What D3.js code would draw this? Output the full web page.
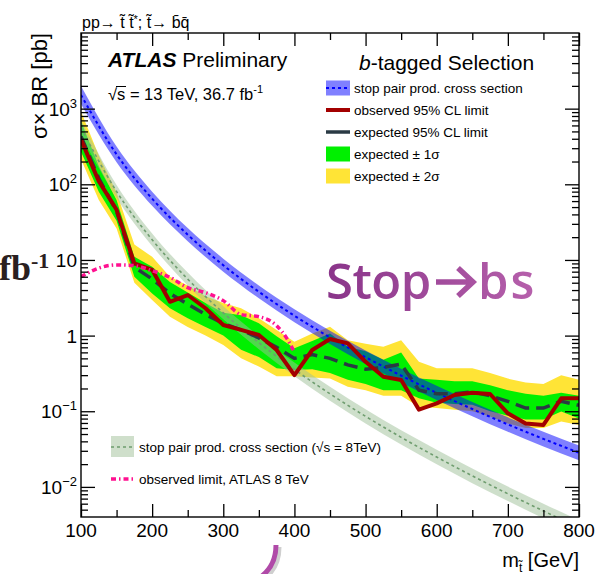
<!DOCTYPE html>
<html>
<head>
<meta charset="utf-8">
<script src="https://cdn.jsdelivr.net/npm/d3@7"></script>
<style>
html, body { margin: 0; padding: 0; background: #fff; }
svg { display: block; font-family: "Liberation Sans", Arial, Helvetica, sans-serif; }
</style>
</head>
<body>
<svg id="chart" width="599" height="574"></svg>
<script>
// ---- limit scan (stop mass in GeV, sigma x BR in pb) ----
const mass = [100,125,150,175,200,225,250,275,300,325,350,375,400,425,450,475,500,525,550,575,600,625,650,675,700,725,750,775,800];
const observed = [390,110,46,9.0,7.4,2.8,3.44,2.3,1.38,1.19,1.02,0.645,0.30,0.645,0.90,0.79,0.45,0.286,0.259,0.105,0.127,0.164,0.176,0.169,0.094,0.069,0.066,0.148,0.148];
const expected = [430,120,44,8.0,5.6,3.6,2.6,1.9,1.45,1.19,0.93,0.70,0.50,0.56,0.50,0.41,0.36,0.38,0.42,0.19,0.17,0.17,0.18,0.16,0.135,0.11,0.11,0.135,0.12];
const exp1Lo = [270,80,33,6.0,3.6,2.3,1.7,1.3,1.0,0.65,0.52,0.37,0.35,0.36,0.32,0.26,0.23,0.19,0.19,0.148,0.13,0.125,0.122,0.10,0.087,0.078,0.078,0.099,0.08];
const exp1Hi = [680,175,62,11,8.1,5.1,3.7,2.7,2.0,1.86,1.46,0.98,0.68,0.85,1.07,0.71,0.62,0.48,0.60,0.27,0.26,0.25,0.25,0.22,0.19,0.17,0.16,0.175,0.16];
const exp2Lo = [215,62,26,5.0,2.95,1.78,1.3,1.0,0.75,0.5,0.39,0.29,0.29,0.28,0.27,0.21,0.19,0.16,0.16,0.115,0.11,0.105,0.10,0.085,0.069,0.06,0.06,0.073,0.066];
const exp2Hi = [920,240,78,16,11,6.0,4.6,3.3,2.7,2.3,1.7,1.19,0.83,1.07,1.31,0.87,0.78,0.71,0.87,0.45,0.37,0.37,0.37,0.32,0.27,0.24,0.23,0.30,0.26];

// ---- stop pair production cross sections ----
const xsMass = [100,150,200,250,300,350,400,450,500,550,600,650,700,750,800];
const xs13   = [1521,249,64.5,21.6,8.52,3.79,1.83,0.948,0.518,0.296,0.175,0.107,0.0670,0.0431,0.0283];
const xs13Lo = [1150,196,52,17.7,7.0,3.12,1.5,0.775,0.422,0.24,0.141,0.086,0.0535,0.0342,0.0225];
const xs13Hi = [2000,316,80,26.4,10.4,4.6,2.23,1.16,0.636,0.364,0.217,0.133,0.0830,0.0535,0.0352];
const xs8    = [560,80.3,18.5,5.58,2.00,0.807,0.357,0.170,0.0856,0.0452,0.0248,0.0140,0.00811,0.00481,0.00290];
const xs8Lo  = [440,66,15.3,4.6,1.64,0.66,0.29,0.138,0.069,0.0364,0.0199,0.0112,0.0065,0.00384,0.00231];
const xs8Hi  = [710,98,22.4,6.8,2.44,0.99,0.44,0.21,0.106,0.056,0.031,0.0175,0.0101,0.0060,0.00363];

// ---- earlier 8 TeV observed limit ----
const atlas8Mass = [100,125,150,175,200,225,250,275,300,325,350,375,390,400];
const atlas8Obs  = [6.0,7.8,8.6,8.4,7.2,5.9,4.3,3.7,2.9,1.9,1.78,1.35,0.9,0.6];

// ---- axis tick labels ----
const xTickValues = [100,200,300,400,500,600,700,800];
const yTickValues = [1e-2,1e-1,1,10,100,1000];
const yTickBase = ["10","10","1","10","10","10"];
const yTickExp  = ["\u22122","\u22121","","","2","3"];

const L = 81, R = 579, T = 33, B = 517;
const svg = d3.select("#chart");
const x = d3.scaleLinear().domain([100, 800]).range([L, R]);
const y = d3.scaleLog().domain([4e-3, 1e4]).range([B, T]);

const defs = svg.append("defs");
defs.append("clipPath").attr("id", "plotClip")
  .append("rect").attr("x", L).attr("y", T).attr("width", R - L).attr("height", B - T);
const grad = defs.append("linearGradient").attr("id", "stopGrad")
  .attr("gradientUnits", "userSpaceOnUse").attr("x1", 328).attr("x2", 545).attr("y1", 0).attr("y2", 0);
grad.append("stop").attr("offset", "0").attr("stop-color", "#8a358a");
grad.append("stop").attr("offset", "1").attr("stop-color", "#b862ad");

const plot = svg.append("g").attr("clip-path", "url(#plotClip)");

function bandPath(ms, lo, hi, curve) {
  return d3.area()
    .x(i => x(ms[i])).y0(i => y(lo[i])).y1(i => y(hi[i]))
    .curve(curve)(d3.range(ms.length));
}
function linePath(ms, vals, curve) {
  return d3.line().x(i => x(ms[i])).y(i => y(vals[i])).curve(curve)(d3.range(ms.length));
}

// expected bands
plot.append("path").attr("d", bandPath(mass, exp2Lo, exp2Hi, d3.curveLinear)).attr("fill", "#ffe436");
plot.append("path").attr("d", bandPath(mass, exp1Lo, exp1Hi, d3.curveLinear)).attr("fill", "#00f000");

// theory cross sections
plot.append("path").attr("d", bandPath(xsMass, xs8Lo, xs8Hi, d3.curveMonotoneX))
  .attr("fill", "#9ebf98").attr("fill-opacity", 0.5);
plot.append("path").attr("d", linePath(xsMass, xs8, d3.curveMonotoneX))
  .attr("fill", "none").attr("stroke", "#6f9d6f").attr("stroke-width", 1.6).attr("stroke-dasharray", "3,3");
plot.append("path").attr("d", bandPath(xsMass, xs13Lo, xs13Hi, d3.curveMonotoneX))
  .attr("fill", "#0000ff").attr("fill-opacity", 0.5);
plot.append("path").attr("d", linePath(xsMass, xs13, d3.curveMonotoneX))
  .attr("fill", "none").attr("stroke", "#0000ff").attr("stroke-width", 2).attr("stroke-dasharray", "3,3");

// limits
plot.append("path").attr("d", linePath(mass, expected, d3.curveLinear))
  .attr("fill", "none").attr("stroke", "#2a3a44").attr("stroke-width", 3.5).attr("stroke-dasharray", "14,7");
plot.append("path").attr("d", linePath(mass, observed, d3.curveLinear))
  .attr("fill", "none").attr("stroke", "#a30000").attr("stroke-width", 4).attr("stroke-linejoin", "round");
plot.append("path").attr("d", linePath(atlas8Mass, atlas8Obs, d3.curveMonotoneX))
  .attr("fill", "none").attr("stroke", "#ff1090").attr("stroke-width", 3.5).attr("stroke-dasharray", "5,3,1.5,3");

// ---- axes ----
const xMinor = [150,250,350,450,550,650,750];
const yMinor = [];
for (let k = -3; k <= 3; k++) for (let m = 2; m <= 9; m++) {
  const v = m * Math.pow(10, k);
  if (v > 4e-3 && v < 1e4) yMinor.push(v);
}
const axes = svg.append("g");
function addAxis(gen, tx, ty) {
  const g = axes.append("g").attr("transform", `translate(${tx},${ty})`).call(gen);
  g.select(".domain").remove();
  g.selectAll("line").attr("stroke", "#000").attr("stroke-width", 1.3);
  g.selectAll("text").remove();
}
addAxis(d3.axisBottom(x).tickValues(xTickValues).tickSize(-13).tickFormat(""), 0, B);
addAxis(d3.axisBottom(x).tickValues(xMinor).tickSize(-7).tickFormat(""), 0, B);
addAxis(d3.axisTop(x).tickValues(xTickValues).tickSize(-13).tickFormat(""), 0, T);
addAxis(d3.axisTop(x).tickValues(xMinor).tickSize(-7).tickFormat(""), 0, T);
addAxis(d3.axisLeft(y).tickValues(yTickValues).tickSize(-14).tickFormat(""), L, 0);
addAxis(d3.axisLeft(y).tickValues(yMinor).tickSize(-7).tickFormat(""), L, 0);
addAxis(d3.axisRight(y).tickValues(yTickValues).tickSize(-14).tickFormat(""), R, 0);
addAxis(d3.axisRight(y).tickValues(yMinor).tickSize(-7).tickFormat(""), R, 0);
svg.append("rect").attr("x", L).attr("y", T).attr("width", R - L).attr("height", B - T)
  .attr("fill", "none").attr("stroke", "#000").attr("stroke-width", 1.4);

// tick labels
svg.append("g").selectAll("text").data(xTickValues).join("text")
  .attr("x", d => x(d)).attr("y", 537).attr("text-anchor", "middle")
  .attr("font-size", 19).text(d => d);
const yl = svg.append("g").selectAll("text").data(yTickValues).join("text")
  .attr("x", 77).attr("y", d => y(d) + 7).attr("text-anchor", "end").attr("font-size", 19);
yl.append("tspan").text((d, i) => yTickBase[i]);
yl.append("tspan").attr("dy", -8).attr("font-size", 13).text((d, i) => yTickExp[i]);

// axis titles
const xt = svg.append("text").attr("x", 579).attr("y", 567).attr("text-anchor", "end").attr("font-size", 20);
xt.append("tspan").text("m");
xt.append("tspan").attr("dy", 5).attr("font-size", 12).text("t\u0303");
xt.append("tspan").attr("dy", -5).text(" [GeV]");
svg.append("text").attr("transform", "translate(47,33) rotate(-90)").attr("text-anchor", "end")
  .attr("font-size", 22).text("\u03c3\u00d7 BR [pb]");

// process title
const tt = svg.append("text").attr("x", 82).attr("y", 28).attr("font-size", 16);
tt.append("tspan").text("pp\u2192 t\u0303 t\u0303");
tt.append("tspan").attr("dy", -5).attr("font-size", 11).text("*");
tt.append("tspan").attr("dy", 5).text("; t\u0303\u2192 b\u0304q\u0304");

// ATLAS label
const at = svg.append("text").attr("x", 108).attr("y", 67).attr("font-size", 21);
at.append("tspan").attr("font-weight", "bold").attr("font-style", "italic").text("ATLAS");
at.append("tspan").text(" Preliminary");
const rs = svg.append("text").attr("x", 108).attr("y", 100).attr("font-size", 16.5);
rs.append("tspan").text("\u221as = 13 TeV, 36.7 fb");
rs.append("tspan").attr("dy", -7).attr("font-size", 11).text("-1");
svg.append("line").attr("x1", 116).attr("x2", 126).attr("y1", 86.5).attr("y2", 86.5)
  .attr("stroke", "#000").attr("stroke-width", 1);

// selection title and legend
const st = svg.append("text").attr("x", 359).attr("y", 70).attr("font-size", 21);
st.append("tspan").attr("font-style", "italic").text("b");
st.append("tspan").text("-tagged Selection");

const legendRows = [88, 110, 132, 154, 176];
const legendText = ["stop pair prod. cross section", "observed 95% CL limit", "expected 95% CL limit",
  "expected \u00b1 1\u03c3", "expected \u00b1 2\u03c3"];
const lg = svg.append("g");
lg.append("rect").attr("x", 326).attr("y", legendRows[0] - 7.5).attr("width", 24).attr("height", 15).attr("fill", "#8080ff");
lg.append("line").attr("x1", 326).attr("x2", 350).attr("y1", legendRows[0]).attr("y2", legendRows[0])
  .attr("stroke", "#0000ff").attr("stroke-width", 2).attr("stroke-dasharray", "3,3");
lg.append("line").attr("x1", 326).attr("x2", 350).attr("y1", legendRows[1]).attr("y2", legendRows[1])
  .attr("stroke", "#a30000").attr("stroke-width", 4);
lg.append("line").attr("x1", 326).attr("x2", 350).attr("y1", legendRows[2]).attr("y2", legendRows[2])
  .attr("stroke", "#2a3a44").attr("stroke-width", 3.5);
lg.append("rect").attr("x", 326).attr("y", legendRows[3] - 7.5).attr("width", 24).attr("height", 15).attr("fill", "#00f000");
lg.append("rect").attr("x", 326).attr("y", legendRows[4] - 7.5).attr("width", 24).attr("height", 15).attr("fill", "#ffe436");
lg.selectAll("text").data(legendText).join("text")
  .attr("x", 354).attr("y", (d, i) => legendRows[i] + 5).attr("font-size", 13.5).text(d => d);

// lower legend
const lg2 = svg.append("g");
lg2.append("rect").attr("x", 111).attr("y", 436).attr("width", 23).attr("height", 21).attr("fill", "#cfdfcb");
lg2.append("line").attr("x1", 111).attr("x2", 134).attr("y1", 447).attr("y2", 447)
  .attr("stroke", "#6f9d6f").attr("stroke-width", 1.6).attr("stroke-dasharray", "3,3");
lg2.append("line").attr("x1", 111).attr("x2", 134).attr("y1", 479).attr("y2", 479)
  .attr("stroke", "#ff1090").attr("stroke-width", 3.5).attr("stroke-dasharray", "5,3,1.5,3");
lg2.append("text").attr("x", 139).attr("y", 452).attr("font-size", 13.5)
  .text("stop pair prod. cross section (\u221as = 8TeV)");
lg2.append("text").attr("x", 139).attr("y", 484).attr("font-size", 13.5).text("observed limit, ATLAS 8 TeV");

// slide overlay text
const fb = svg.append("text").attr("x", -1).attr("y", 280)
  .attr("font-family", "'Liberation Serif', 'Times New Roman', serif").attr("font-weight", "bold")
  .attr("font-size", 36).attr("fill", "#2a2020");
fb.append("tspan").text("fb");
fb.append("tspan").attr("dy", -12).attr("font-size", 22).text("-1");

const sb = svg.append("g").attr("fill", "url(#stopGrad)")
  .attr("font-family", "'Open Sans', Lato, sans-serif").attr("font-weight", 600).attr("font-size", 49);
sb.append("text").attr("x", 326).attr("y", 299).attr("letter-spacing", -0.5).text("Stop");
sb.append("text").attr("x", 478).attr("y", 299).attr("letter-spacing", 2).text("bs");
svg.append("path").attr("d", "M436,282 L472,282 M458,268 L473,282 L458,296")
  .attr("fill", "none").attr("stroke", "url(#stopGrad)").attr("stroke-width", 5.5).attr("stroke-linejoin", "miter");

svg.append("path").attr("d", "M279,547 C279,560 275,570 265,578")
  .attr("fill", "none").attr("stroke", "#cfcfcf").attr("stroke-width", 5);
svg.append("path").attr("d", "M276,545 C276,558 272,568 262,576")
  .attr("fill", "none").attr("stroke", "#b04aa8").attr("stroke-width", 5);
</script>
</body>
</html>
